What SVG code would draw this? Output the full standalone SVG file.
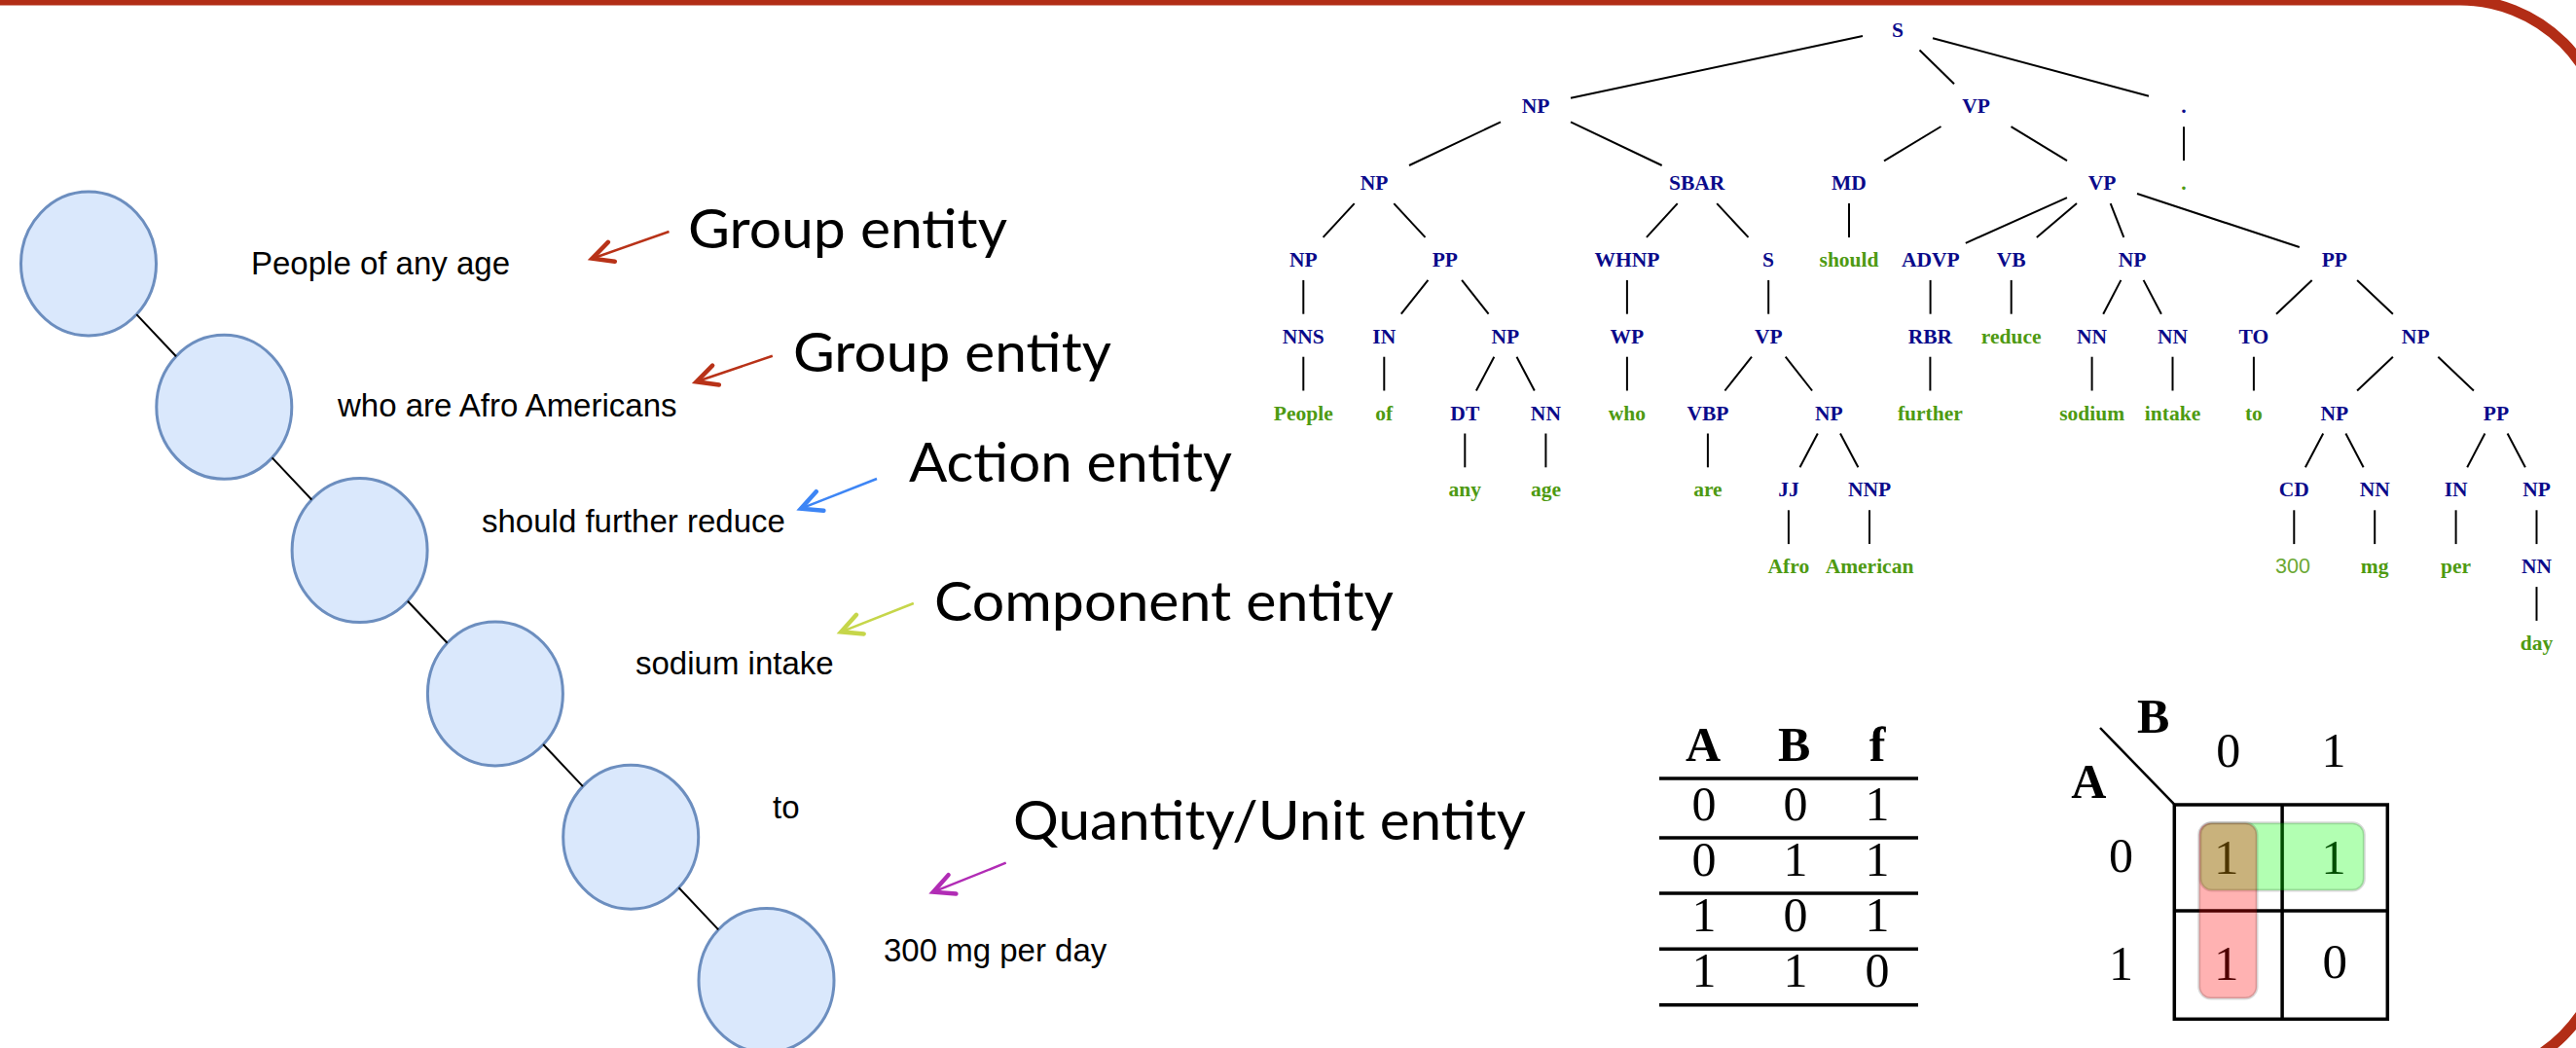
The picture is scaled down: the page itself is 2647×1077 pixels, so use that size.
<svg xmlns="http://www.w3.org/2000/svg" width="2647" height="1077" viewBox="0 0 2647 1077">
<style>
.frame{fill:none;stroke:#B22D16;stroke-width:11}
.ell{fill:#DAE8FC;stroke:#6C8EBF;stroke-width:3}
.link{stroke:#000;stroke-width:2;fill:none}
.tl{stroke:#000;stroke-width:2;fill:none}
.lt{font-family:"Liberation Sans",Arial,sans-serif;font-size:33px;fill:#000}
.el{font-family:Lato,"Noto Sans",sans-serif;font-size:57px;fill:#000}
.nt{font-family:"Liberation Serif","Times New Roman",serif;font-weight:bold;font-size:21.5px;fill:#0A0A8A;text-anchor:middle}
.tm{font-family:"Liberation Serif","Times New Roman",serif;font-weight:bold;font-size:21.5px;fill:#4E9A12;text-anchor:middle}
.num{font-family:"Liberation Sans",Arial,sans-serif;font-size:21.5px;fill:#6BA832;text-anchor:middle}
.th{font-family:"Liberation Serif","Times New Roman",serif;font-weight:bold;font-size:50px;fill:#000;text-anchor:middle}
.td{font-family:"Liberation Serif","Times New Roman",serif;font-size:50px;fill:#000;text-anchor:middle}
.kd{font-family:"Liberation Serif","Times New Roman",serif;font-size:51px;fill:#000;text-anchor:middle}
.rule{stroke:#000;stroke-width:3.5}
.grid{stroke:#000;stroke-width:3.5;fill:none}
.ar-red{stroke:#B83218;stroke-width:2.5;fill:none}
.ar-blue{stroke:#3D85F5;stroke-width:2.5;fill:none}
.ar-lime{stroke:#C6D64A;stroke-width:2.5;fill:none}
.ar-mag{stroke:#B12CB5;stroke-width:2.5;fill:none}
</style>
<defs>
<marker id="m-red" markerUnits="userSpaceOnUse" markerWidth="40" markerHeight="40" viewBox="-30 -20 40 40" refX="0" refY="0" orient="auto"><path d="M-21,-10.5 L0,0 L-21,10.5" fill="none" stroke="#B83218" stroke-width="4.5" stroke-linecap="round"/></marker>
<marker id="m-blue" markerUnits="userSpaceOnUse" markerWidth="40" markerHeight="40" viewBox="-30 -20 40 40" refX="0" refY="0" orient="auto"><path d="M-21,-10.5 L0,0 L-21,10.5" fill="none" stroke="#3D85F5" stroke-width="4.5" stroke-linecap="round"/></marker>
<marker id="m-lime" markerUnits="userSpaceOnUse" markerWidth="40" markerHeight="40" viewBox="-30 -20 40 40" refX="0" refY="0" orient="auto"><path d="M-21,-10.5 L0,0 L-21,10.5" fill="none" stroke="#C6D64A" stroke-width="4.5" stroke-linecap="round"/></marker>
<marker id="m-mag" markerUnits="userSpaceOnUse" markerWidth="40" markerHeight="40" viewBox="-30 -20 40 40" refX="0" refY="0" orient="auto"><path d="M-21,-10.5 L0,0 L-21,10.5" fill="none" stroke="#B12CB5" stroke-width="4.5" stroke-linecap="round"/></marker>
</defs>
<rect width="2647" height="1077" fill="#fff"/>
<path class="frame" d="M-20,0 H2528 A150,150 0 0 1 2678,150 V958 A150,150 0 0 1 2528,1108 H-20"/>

<g id="chain-nodes">
<g id="e1"><ellipse class="ell" cx="91" cy="271" rx="69.5" ry="74"/><text class="lt" x="258" y="282">People of any age</text></g>
<g id="e2"><ellipse class="ell" cx="230.3" cy="418.3" rx="69.5" ry="74"/><text class="lt" x="347" y="428">who are Afro Americans</text></g>
<g id="e3"><ellipse class="ell" cx="369.6" cy="565.6" rx="69.5" ry="74"/><text class="lt" x="495" y="547">should further reduce</text></g>
<g id="e4"><ellipse class="ell" cx="508.9" cy="712.9" rx="69.5" ry="74"/><text class="lt" x="653" y="693">sodium intake</text></g>
<g id="e5"><ellipse class="ell" cx="648.2" cy="860.2" rx="69.5" ry="74"/><text class="lt" x="794" y="841">to</text></g>
<g id="e6"><ellipse class="ell" cx="787.5" cy="1007.5" rx="69.5" ry="74"/><text class="lt" x="908" y="988">300 mg per day</text></g>
</g>

<g id="entity-labels">
<g id="lab1"><text class="el" x="707" y="255" textLength="328" lengthAdjust="spacingAndGlyphs">Group entity</text></g>
<g id="lab2"><text class="el" x="815" y="381.5" textLength="327" lengthAdjust="spacingAndGlyphs">Group entity</text></g>
<g id="lab3"><text class="el" x="934" y="495" textLength="332" lengthAdjust="spacingAndGlyphs">Action entity</text></g>
<g id="lab4"><text class="el" x="960" y="637.5" textLength="472" lengthAdjust="spacingAndGlyphs">Component entity</text></g>
<g id="lab5"><text class="el" x="1041" y="862.5" textLength="527" lengthAdjust="spacingAndGlyphs">Quantity/Unit entity</text></g>
</g>

<g id="connectors">
<line class="link" x1="140.3" y1="323.1" x2="181" y2="366.2"/>
<line class="link" x1="279.6" y1="470.4" x2="320.3" y2="513.5"/>
<line class="link" x1="418.9" y1="617.7" x2="459.6" y2="660.8"/>
<line class="link" x1="558.2" y1="765" x2="598.9" y2="808.1"/>
<line class="link" x1="697.5" y1="912.3" x2="738.2" y2="955.4"/>
<line class="ar-red" x1="687.5" y1="238" x2="608.5" y2="265.7" marker-end="url(#m-red)"/>
<line class="ar-red" x1="793.8" y1="365.7" x2="715.6" y2="392.3" marker-end="url(#m-red)"/>
<line class="ar-blue" x1="901" y1="492" x2="823" y2="522.7" marker-end="url(#m-blue)"/>
<line class="ar-lime" x1="938.8" y1="620" x2="864.3" y2="649.3" marker-end="url(#m-lime)"/>
<line class="ar-mag" x1="1033.7" y1="886.7" x2="959" y2="916.7" marker-end="url(#m-mag)"/>
<g id="tree-edges">
<line class="tl" x1="1914" y1="37.1" x2="1614" y2="100.7"/>
<line class="tl" x1="1972.5" y1="51.5" x2="2008" y2="86.3"/>
<line class="tl" x1="1986" y1="39.2" x2="2208" y2="98.7"/>
<line class="tl" x1="1542" y1="125.4" x2="1448" y2="170"/>
<line class="tl" x1="1614" y1="125.4" x2="1707.7" y2="170"/>
<line class="tl" x1="1994.5" y1="130" x2="1936" y2="165.4"/>
<line class="tl" x1="2066.5" y1="130.2" x2="2124" y2="165.2"/>
<line class="tl" x1="2244" y1="130.3" x2="2244" y2="165.1"/>
<line class="tl" x1="1391.7" y1="209.1" x2="1359.6" y2="243.9"/>
<line class="tl" x1="1432.3" y1="209.1" x2="1464.5" y2="243.9"/>
<line class="tl" x1="1723.7" y1="209.1" x2="1691.9" y2="243.9"/>
<line class="tl" x1="1764.2" y1="209.1" x2="1796.5" y2="243.9"/>
<line class="tl" x1="1900" y1="209.1" x2="1900" y2="243.9"/>
<line class="tl" x1="2124" y1="203.2" x2="2019.8" y2="249.8"/>
<line class="tl" x1="2134" y1="209.1" x2="2092.8" y2="243.9"/>
<line class="tl" x1="2168.7" y1="209.1" x2="2182.3" y2="243.9"/>
<line class="tl" x1="2196" y1="199" x2="2362.8" y2="254"/>
<line class="tl" x1="1339.3" y1="287.9" x2="1339.3" y2="322.7"/>
<line class="tl" x1="1467.4" y1="287.9" x2="1439.8" y2="322.7"/>
<line class="tl" x1="1502.1" y1="287.9" x2="1529.6" y2="322.7"/>
<line class="tl" x1="1671.9" y1="287.9" x2="1671.9" y2="322.7"/>
<line class="tl" x1="1817.2" y1="287.9" x2="1817.2" y2="322.7"/>
<line class="tl" x1="1983.6" y1="287.9" x2="1983.6" y2="322.7"/>
<line class="tl" x1="2066.7" y1="287.9" x2="2066.7" y2="322.7"/>
<line class="tl" x1="2179.4" y1="287.9" x2="2161.2" y2="322.7"/>
<line class="tl" x1="2202.6" y1="287.9" x2="2220.9" y2="322.7"/>
<line class="tl" x1="2375.7" y1="287.9" x2="2339" y2="322.7"/>
<line class="tl" x1="2422.1" y1="287.9" x2="2458.9" y2="322.7"/>
<line class="tl" x1="1339.3" y1="366.7" x2="1339.3" y2="401.5"/>
<line class="tl" x1="1422.3" y1="366.7" x2="1422.3" y2="401.5"/>
<line class="tl" x1="1535.3" y1="366.7" x2="1516.9" y2="401.5"/>
<line class="tl" x1="1558.5" y1="366.7" x2="1576.8" y2="401.5"/>
<line class="tl" x1="1671.9" y1="366.7" x2="1671.9" y2="401.5"/>
<line class="tl" x1="1800" y1="366.7" x2="1772.4" y2="401.5"/>
<line class="tl" x1="1834.7" y1="366.7" x2="1862.1" y2="401.5"/>
<line class="tl" x1="1983.4" y1="366.7" x2="1983.4" y2="401.5"/>
<line class="tl" x1="2149.6" y1="366.7" x2="2149.6" y2="401.5"/>
<line class="tl" x1="2232.5" y1="366.7" x2="2232.5" y2="401.5"/>
<line class="tl" x1="2315.9" y1="366.7" x2="2315.9" y2="401.5"/>
<line class="tl" x1="2458.9" y1="366.7" x2="2422.1" y2="401.5"/>
<line class="tl" x1="2505.3" y1="366.7" x2="2541.9" y2="401.5"/>
<line class="tl" x1="1505.3" y1="445.5" x2="1505.3" y2="480.3"/>
<line class="tl" x1="1588.4" y1="445.5" x2="1588.4" y2="480.3"/>
<line class="tl" x1="1754.9" y1="445.5" x2="1754.9" y2="480.3"/>
<line class="tl" x1="1867.8" y1="445.5" x2="1849.5" y2="480.3"/>
<line class="tl" x1="1891" y1="445.5" x2="1909.4" y2="480.3"/>
<line class="tl" x1="2387.2" y1="445.5" x2="2368.9" y2="480.3"/>
<line class="tl" x1="2410.4" y1="445.5" x2="2428.6" y2="480.3"/>
<line class="tl" x1="2553.4" y1="445.5" x2="2535.2" y2="480.3"/>
<line class="tl" x1="2576.6" y1="445.5" x2="2594.9" y2="480.3"/>
<line class="tl" x1="1837.9" y1="524.3" x2="1837.9" y2="559.1"/>
<line class="tl" x1="1921" y1="524.3" x2="1921" y2="559.1"/>
<line class="tl" x1="2357.3" y1="524.3" x2="2357.3" y2="559.1"/>
<line class="tl" x1="2440.2" y1="524.3" x2="2440.2" y2="559.1"/>
<line class="tl" x1="2523.6" y1="524.3" x2="2523.6" y2="559.1"/>
<line class="tl" x1="2606.5" y1="524.3" x2="2606.5" y2="559.1"/>
<line class="tl" x1="2606.5" y1="603.1" x2="2606.5" y2="637.9"/>
</g>
</g>

<g id="tree-nodes">
<g id="n-S0"><text class="nt" x="1950" y="37.5">S</text></g>
<g id="n-NP1"><text class="nt" x="1578" y="116.3">NP</text></g>
<g id="n-VP1"><text class="nt" x="2030.5" y="116.3">VP</text></g>
<g id="n-DOT1"><text class="nt" x="2244" y="116.3">.</text></g>
<g id="n-NP2"><text class="nt" x="1412" y="195.1">NP</text></g>
<g id="n-SBAR2"><text class="nt" x="1743.7" y="195.1">SBAR</text></g>
<g id="n-MD2"><text class="nt" x="1900" y="195.1">MD</text></g>
<g id="n-VP2"><text class="nt" x="2160" y="195.1">VP</text></g>
<g id="n-DOT2"><text class="tm" x="2244" y="195.1">.</text></g>
<g id="n-NP3a"><text class="nt" x="1339.3" y="273.9">NP</text></g>
<g id="n-PP3a"><text class="nt" x="1484.8" y="273.9">PP</text></g>
<g id="n-WHNP3"><text class="nt" x="1671.9" y="273.9">WHNP</text></g>
<g id="n-S3"><text class="nt" x="1817" y="273.9">S</text></g>
<g id="n-should"><text class="tm" x="1900" y="273.9">should</text></g>
<g id="n-ADVP3"><text class="nt" x="1983.8" y="273.9">ADVP</text></g>
<g id="n-VB3"><text class="nt" x="2066.7" y="273.9">VB</text></g>
<g id="n-NP3b"><text class="nt" x="2191" y="273.9">NP</text></g>
<g id="n-PP3b"><text class="nt" x="2398.8" y="273.9">PP</text></g>
<g id="n-NNS4"><text class="nt" x="1339.3" y="352.7">NNS</text></g>
<g id="n-IN4"><text class="nt" x="1422.3" y="352.7">IN</text></g>
<g id="n-NP4a"><text class="nt" x="1546.9" y="352.7">NP</text></g>
<g id="n-WP4"><text class="nt" x="1671.9" y="352.7">WP</text></g>
<g id="n-VP4"><text class="nt" x="1817.4" y="352.7">VP</text></g>
<g id="n-RBR4"><text class="nt" x="1983.4" y="352.7">RBR</text></g>
<g id="n-reduce"><text class="tm" x="2066.7" y="352.7">reduce</text></g>
<g id="n-NN4a"><text class="nt" x="2149.6" y="352.7">NN</text></g>
<g id="n-NN4b"><text class="nt" x="2232.5" y="352.7">NN</text></g>
<g id="n-TO4"><text class="nt" x="2315.9" y="352.7">TO</text></g>
<g id="n-NP4b"><text class="nt" x="2482.2" y="352.7">NP</text></g>
<g id="n-People"><text class="tm" x="1339.3" y="431.5">People</text></g>
<g id="n-of"><text class="tm" x="1422.3" y="431.5">of</text></g>
<g id="n-DT5"><text class="nt" x="1505.3" y="431.5">DT</text></g>
<g id="n-NN5"><text class="nt" x="1588.4" y="431.5">NN</text></g>
<g id="n-who"><text class="tm" x="1671.9" y="431.5">who</text></g>
<g id="n-VBP5"><text class="nt" x="1754.9" y="431.5">VBP</text></g>
<g id="n-NP5a"><text class="nt" x="1879.4" y="431.5">NP</text></g>
<g id="n-further"><text class="tm" x="1983.4" y="431.5">further</text></g>
<g id="n-sodium"><text class="tm" x="2149.6" y="431.5">sodium</text></g>
<g id="n-intake"><text class="tm" x="2232.5" y="431.5">intake</text></g>
<g id="n-to"><text class="tm" x="2315.9" y="431.5">to</text></g>
<g id="n-NP5b"><text class="nt" x="2398.8" y="431.5">NP</text></g>
<g id="n-PP5"><text class="nt" x="2565" y="431.5">PP</text></g>
<g id="n-any"><text class="tm" x="1505.3" y="510.3">any</text></g>
<g id="n-age"><text class="tm" x="1588.4" y="510.3">age</text></g>
<g id="n-are"><text class="tm" x="1754.9" y="510.3">are</text></g>
<g id="n-JJ6"><text class="nt" x="1837.9" y="510.3">JJ</text></g>
<g id="n-NNP6"><text class="nt" x="1921" y="510.3">NNP</text></g>
<g id="n-CD6"><text class="nt" x="2357.3" y="510.3">CD</text></g>
<g id="n-NN6"><text class="nt" x="2440.2" y="510.3">NN</text></g>
<g id="n-IN6"><text class="nt" x="2523.6" y="510.3">IN</text></g>
<g id="n-NP6"><text class="nt" x="2606.5" y="510.3">NP</text></g>
<g id="n-Afro"><text class="tm" x="1837.9" y="589.1">Afro</text></g>
<g id="n-American"><text class="tm" x="1921" y="589.1">American</text></g>
<g id="n-300"><text class="num" x="2356" y="589.1">300</text></g>
<g id="n-mg"><text class="tm" x="2440.2" y="589.1">mg</text></g>
<g id="n-per"><text class="tm" x="2523.6" y="589.1">per</text></g>
<g id="n-NN7"><text class="nt" x="2606.5" y="589.1">NN</text></g>
<g id="n-day"><text class="tm" x="2606.5" y="667.9">day</text></g>
</g>

<g id="truth-table">
<text class="th" x="1750" y="781.7">A</text>
<text class="th" x="1843.7" y="781.7">B</text>
<text class="th" x="1929.2" y="781.7">f</text>
<line class="rule" x1="1705" y1="800" x2="1971" y2="800"/>
<line class="rule" x1="1705" y1="861" x2="1971" y2="861"/>
<line class="rule" x1="1705" y1="918" x2="1971" y2="918"/>
<line class="rule" x1="1705" y1="975.3" x2="1971" y2="975.3"/>
<line class="rule" x1="1705" y1="1032.7" x2="1971" y2="1032.7"/>
<text class="td" x="1751" y="843.3">0</text><text class="td" x="1845" y="843.3">0</text><text class="td" x="1929" y="843.3">1</text>
<text class="td" x="1751" y="900">0</text><text class="td" x="1845" y="900">1</text><text class="td" x="1929" y="900">1</text>
<text class="td" x="1751" y="957.3">1</text><text class="td" x="1845" y="957.3">0</text><text class="td" x="1929" y="957.3">1</text>
<text class="td" x="1751" y="1014.3">1</text><text class="td" x="1845" y="1014.3">1</text><text class="td" x="1929" y="1014.3">0</text>
</g>

<g id="kmap">
<line x1="2158" y1="748" x2="2234.3" y2="826.7" stroke="#000" stroke-width="2.5"/>
<text class="th" x="2212.6" y="752.7">B</text>
<text class="th" x="2146.2" y="820">A</text>
<text class="td" x="2289.7" y="788.3">0</text>
<text class="td" x="2397.9" y="788.3">1</text>
<text class="td" x="2179.6" y="896">0</text>
<text class="td" x="2179.6" y="1006.7">1</text>
<rect class="grid" x="2234.3" y="827" width="219" height="220.3"/>
<line class="grid" x1="2345.1" y1="827" x2="2345.1" y2="1047.3"/>
<line class="grid" x1="2234.3" y1="936" x2="2453.3" y2="936"/>
<text class="kd" x="2287.7" y="898.3">1</text>
<text class="kd" x="2397.9" y="898.3">1</text>
<text class="kd" x="2287.7" y="1006.7">1</text>
<text class="kd" x="2399.3" y="1005">0</text>
<rect x="2261" y="845.7" width="168.3" height="69.3" rx="12" fill="rgb(0,255,0)" fill-opacity="0.3" stroke="#000" stroke-opacity="0.15" stroke-width="3"/>
<rect x="2259.7" y="845.7" width="59.4" height="180.3" rx="12" fill="rgb(255,0,0)" fill-opacity="0.3" stroke="#000" stroke-opacity="0.15" stroke-width="3"/>
</g>
</svg>
